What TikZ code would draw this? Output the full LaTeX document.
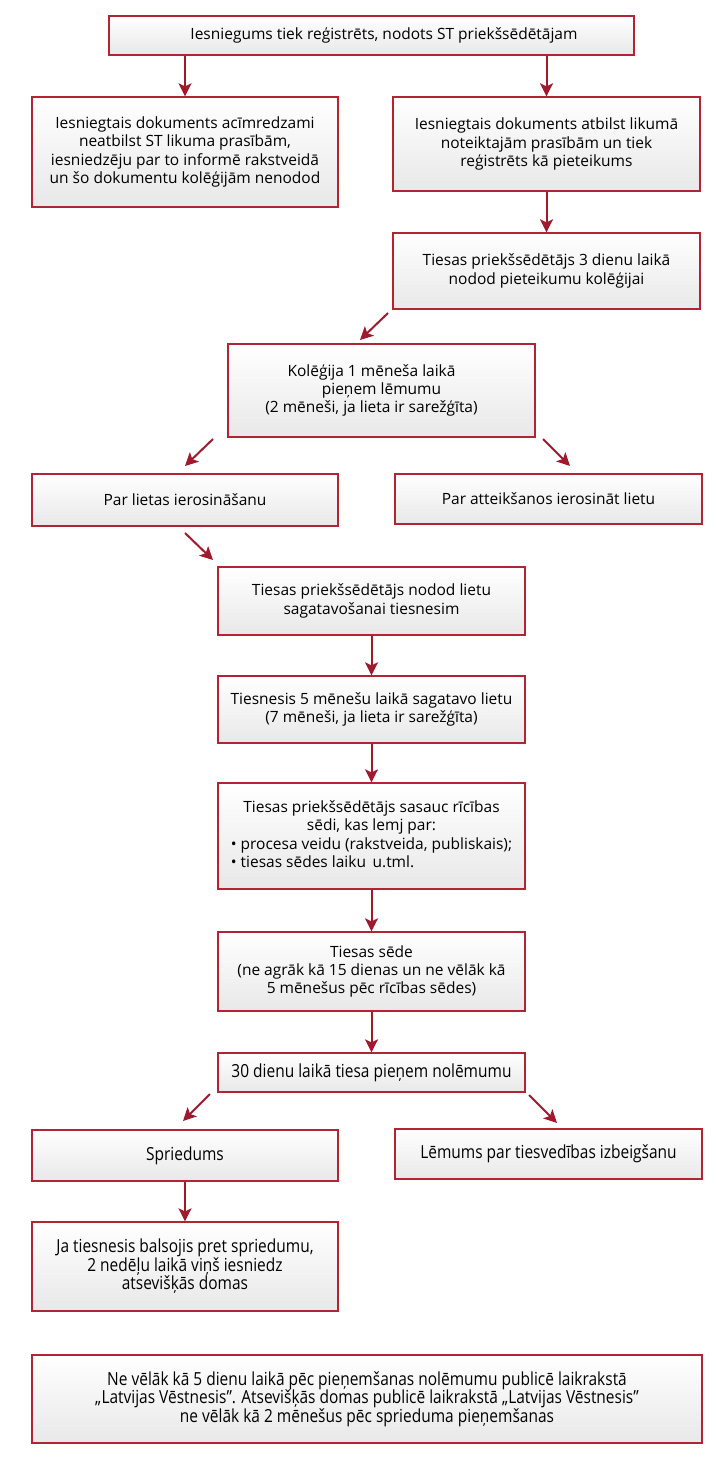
\documentclass[tikz,border=0pt]{standalone}
\usepackage{fontspec}
\setmainfont{Open Sans}
\newfontfamily\condfont[FakeStretch=0.86]{Open Sans}
\usetikzlibrary{arrows.meta,calc}

\definecolor{ramis}{RGB}{178,36,52}
\definecolor{bulta}{RGB}{158,26,44}
\tikzset{every picture/.style={line width=0.75pt}}
\tikzset{
  blok/.style={draw=ramis, line width=1.3pt, top color=white, bottom color=gray!18,
    inner sep=0pt, align=center, font=\fontsize{15.5}{18.4}\selectfont},
  cblok/.style={blok, font=\condfont\fontsize{18}{18.6}\selectfont},
  arr/.style={draw=bulta, line width=2pt, -{Stealth[length=13pt,width=13pt,inset=3pt]}}
}

\begin{document}
\begin{tikzpicture}[x=1pt,y=1pt,yscale=-1,xscale=1]
\useasboundingbox (0,0) rectangle (717,1466);

% Boxes
\node [blok, minimum width=525, minimum height=39] (reg) at (371.5,35.5) {\hspace*{25pt}Iesniegums tiek reģistrēts, nodots ST priekšsēdētājam};
\node [blok, minimum width=306, minimum height=110] (neatb) at (185,152) {Iesniegtais dokuments acīmredzami\\neatbilst ST likuma prasībām,\\iesniedzēju par to informē rakstveidā\\un šo dokumentu kolēģijām nenodod};
\node [blok, minimum width=307, minimum height=94] (atb) at (546.5,144) {Iesniegtais dokuments atbilst likumā\\noteiktajām prasībām un tiek\\reģistrēts kā pieteikums};
\node [blok, minimum width=307, minimum height=76] (pries1) at (546.5,271) {Tiesas priekšsēdētājs 3 dienu laikā\\nodod pieteikumu kolēģijai};
\node [blok, minimum width=307, minimum height=93] (koleg) at (381.5,390.5) {Kolēģija 1 mēneša laikā\hspace*{20pt}\\pieņem lēmumu\hspace*{20pt}\\(2 mēneši, ja lieta ir sarežģīta)\hspace*{20pt}};
\node [blok, minimum width=306, minimum height=52] (ieros) at (185,500) {Par lietas ierosināšanu};
\node [blok, minimum width=307, minimum height=50] (attei) at (548.5,499) {Par atteikšanos ierosināt lietu};
\node [blok, minimum width=307, minimum height=68] (nodod) at (371.5,601) {Tiesas priekšsēdētājs nodod lietu\\sagatavošanai tiesnesim};
\node [blok, minimum width=307, minimum height=67] (sagat) at (371.5,709.5) {Tiesnesis 5 mēnešu laikā sagatavo lietu\\(7 mēneši, ja lieta ir sarežģīta)};
\node [blok, minimum width=307, minimum height=106] (ricib) at (371.5,836) {Tiesas priekšsēdētājs sasauc rīcības\\sēdi, kas lemj par:\\• procesa veidu (rakstveida, publiskais);\\\rlap{• tiesas sēdes laiku\, u.tml.}\phantom{• procesa veidu (rakstveida, publiskais);}};
\node [blok, minimum width=307, minimum height=79] (sede) at (371.5,971.5) {Tiesas sēde\\(ne agrāk kā 15 dienas un ne vēlāk kā\\5 mēnešus pēc rīcības sēdes)};
\node [cblok, minimum width=307, minimum height=39] (nolem) at (371.5,1072.5) {30 dienu laikā tiesa pieņem nolēmumu};
\node [cblok, minimum width=306, minimum height=51] (spried) at (185,1155.5) {Spriedums};
\node [cblok, minimum width=307, minimum height=50] (izbeig) at (548.5,1154) {Lēmums par tiesvedības izbeigšanu};
\node [cblok, minimum width=306, minimum height=89] (domas) at (185,1266.5) {Ja tiesnesis balsojis pret spriedumu,\\2 nedēļu laikā viņš iesniedz\\atsevišķās domas};
\node [cblok, minimum width=670, minimum height=88] (publ) at (367,1399) {Ne vēlāk kā 5 dienu laikā pēc pieņemšanas nolēmumu publicē laikrakstā\\„Latvijas Vēstnesis”. Atsevišķās domas publicē laikrakstā „Latvijas Vēstnesis”\\ne vēlāk kā 2 mēnešus pēc sprieduma pieņemšanas};

% Free ends of the slanted arrows
\coordinate (d1a) at (388,313);
\coordinate (d1b) at (360,340);
\coordinate (d2a) at (213,439);
\coordinate (d2b) at (185,466);
\coordinate (d3a) at (543,439);
\coordinate (d3b) at (570,466);
\coordinate (d4a) at (185,533);
\coordinate (d4b) at (213,560);
\coordinate (d5a) at (210,1094);
\coordinate (d5b) at (183,1121);
\coordinate (d6a) at (529,1095);
\coordinate (d6b) at (557,1123);

% Arrows
\draw [arr] (reg.south -| neatb.north) -- (neatb.north);
\draw [arr] (reg.south -| atb.north) -- (atb.north);
\draw [arr] (atb) -- (pries1);
\draw [arr] (d1a) -- (d1b);
\draw [arr] (d2a) -- (d2b);
\draw [arr] (d3a) -- (d3b);
\draw [arr] (d4a) -- (d4b);
\draw [arr] (nodod) -- (sagat);
\draw [arr] (sagat) -- (ricib);
\draw [arr] (ricib) -- (sede);
\draw [arr] (sede) -- (nolem);
\draw [arr] (d5a) -- (d5b);
\draw [arr] (d6a) -- (d6b);
\draw [arr] (spried) -- (domas);

\end{tikzpicture}
\end{document}
